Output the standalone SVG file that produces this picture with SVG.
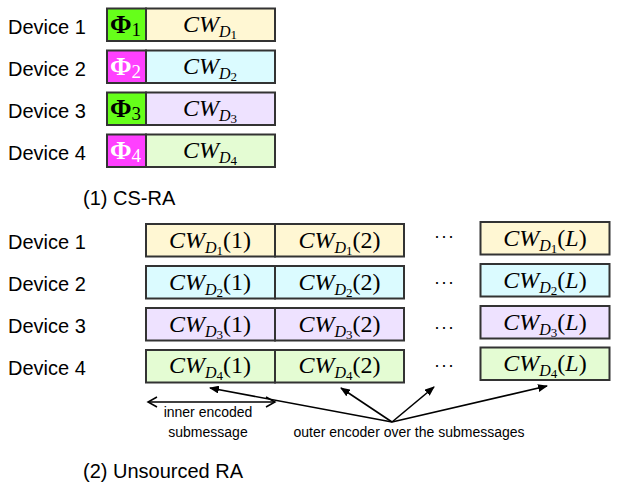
<svg xmlns="http://www.w3.org/2000/svg" width="623" height="488" viewBox="0 0 623 488">
<defs>
<marker id="ah" markerWidth="10" markerHeight="8" refX="9" refY="4" orient="auto" markerUnits="userSpaceOnUse">
<path d="M0,0 L10,4 L0,8 Z" fill="#000"/>
</marker>
<marker id="oh" markerWidth="12" markerHeight="12" refX="10" refY="6" orient="auto-start-reverse" markerUnits="userSpaceOnUse">
<path d="M1,1 L10,6 L1,11" fill="none" stroke="#000" stroke-width="1.5"/>
</marker>
</defs>
<style>
.lbl{font-family:"Liberation Sans",Arial,sans-serif;font-size:20px;fill:#000}
.sm{font-family:"Liberation Sans",Arial,sans-serif;font-size:14px;fill:#000}
.box{stroke:#333;stroke-width:2}
.cw{font-family:"Liberation Serif","DejaVu Serif",serif;font-size:24px;fill:#000}
.it{font-style:italic}
.sd{font-style:italic;font-size:16px}
.sn{font-size:13px}
.phi{font-family:"Liberation Serif","DejaVu Serif",serif;font-size:26px;font-weight:bold}
.ps{font-weight:normal;font-size:19px}
.g{fill:#66FF1A}
.m{fill:#FF40FF}
.c1{fill:#FFF7D3}
.c2{fill:#DBFBFF}
.c3{fill:#EEE2FF}
.c4{fill:#E4FCD3}
.dots{font-family:"Liberation Sans",Arial,sans-serif;font-size:18px;fill:#000;letter-spacing:1px}
.conn{stroke:#000;stroke-width:1.6;fill:none}
</style>
<rect width="623" height="488" fill="#fff"/>

<!-- Section 1: CS-RA -->
<g id="cs-dev1">
<text class="lbl" x="8" y="34">Device 1</text>
<rect class="box g" x="107" y="8.5" width="39" height="32.5"/>
<rect class="box c1" x="146" y="8.5" width="129" height="32.5"/>
<text class="phi" x="110" y="33" fill="#000">Φ<tspan class="ps" dy="3">1</tspan></text>
<text class="cw" x="210" y="32" text-anchor="middle"><tspan class="it">CW</tspan><tspan class="sd" dy="5">D</tspan><tspan class="sn" dy="2">1</tspan></text>
</g>
<g id="cs-dev2">
<text class="lbl" x="8" y="76">Device 2</text>
<rect class="box m" x="107" y="50.5" width="39" height="32.5"/>
<rect class="box c2" x="146" y="50.5" width="129" height="32.5"/>
<text class="phi" x="110" y="75" fill="#fff">Φ<tspan class="ps" dy="3">2</tspan></text>
<text class="cw" x="210" y="74" text-anchor="middle"><tspan class="it">CW</tspan><tspan class="sd" dy="5">D</tspan><tspan class="sn" dy="2">2</tspan></text>
</g>
<g id="cs-dev3">
<text class="lbl" x="8" y="118">Device 3</text>
<rect class="box g" x="107" y="92.5" width="39" height="32.5"/>
<rect class="box c3" x="146" y="92.5" width="129" height="32.5"/>
<text class="phi" x="110" y="117" fill="#000">Φ<tspan class="ps" dy="3">3</tspan></text>
<text class="cw" x="210" y="116" text-anchor="middle"><tspan class="it">CW</tspan><tspan class="sd" dy="5">D</tspan><tspan class="sn" dy="2">3</tspan></text>
</g>
<g id="cs-dev4">
<text class="lbl" x="8" y="160">Device 4</text>
<rect class="box m" x="107" y="134.5" width="39" height="32.5"/>
<rect class="box c4" x="146" y="134.5" width="129" height="32.5"/>
<text class="phi" x="110" y="159" fill="#fff">Φ<tspan class="ps" dy="3">4</tspan></text>
<text class="cw" x="210" y="158" text-anchor="middle"><tspan class="it">CW</tspan><tspan class="sd" dy="5">D</tspan><tspan class="sn" dy="2">4</tspan></text>
</g>
<text class="lbl" x="83" y="205">(1) CS-RA</text>

<!-- Section 2: Unsourced RA -->
<g id="ura-dev1">
<text class="lbl" x="8" y="249">Device 1</text>
<rect class="box c1" x="146" y="224" width="129" height="32.5"/>
<rect class="box c1" x="275" y="224" width="129" height="32.5"/>
<rect class="box c1" x="480.5" y="222" width="129" height="32.5"/>
<text class="cw" x="210" y="248" text-anchor="middle"><tspan class="it">CW</tspan><tspan class="sd" dy="5">D</tspan><tspan class="sn" dy="2">1</tspan><tspan dy="-7">(1)</tspan></text>
<text class="cw" x="339.5" y="248" text-anchor="middle"><tspan class="it">CW</tspan><tspan class="sd" dy="5">D</tspan><tspan class="sn" dy="2">1</tspan><tspan dy="-7">(2)</tspan></text>
<text class="cw" x="545" y="246" text-anchor="middle"><tspan class="it">CW</tspan><tspan class="sd" dy="5">D</tspan><tspan class="sn" dy="2">1</tspan><tspan dy="-7">(</tspan><tspan class="it">L</tspan><tspan>)</tspan></text>
<text class="dots" x="444.5" y="242" text-anchor="middle">···</text>
</g>
<g id="ura-dev2">
<text class="lbl" x="8" y="291">Device 2</text>
<rect class="box c2" x="146" y="266" width="129" height="32.5"/>
<rect class="box c2" x="275" y="266" width="129" height="32.5"/>
<rect class="box c2" x="480.5" y="264" width="129" height="32.5"/>
<text class="cw" x="210" y="290" text-anchor="middle"><tspan class="it">CW</tspan><tspan class="sd" dy="5">D</tspan><tspan class="sn" dy="2">2</tspan><tspan dy="-7">(1)</tspan></text>
<text class="cw" x="339.5" y="290" text-anchor="middle"><tspan class="it">CW</tspan><tspan class="sd" dy="5">D</tspan><tspan class="sn" dy="2">2</tspan><tspan dy="-7">(2)</tspan></text>
<text class="cw" x="545" y="288" text-anchor="middle"><tspan class="it">CW</tspan><tspan class="sd" dy="5">D</tspan><tspan class="sn" dy="2">2</tspan><tspan dy="-7">(</tspan><tspan class="it">L</tspan><tspan>)</tspan></text>
<text class="dots" x="444.5" y="288" text-anchor="middle">···</text>
</g>
<g id="ura-dev3">
<text class="lbl" x="8" y="333">Device 3</text>
<rect class="box c3" x="146" y="308" width="129" height="32.5"/>
<rect class="box c3" x="275" y="308" width="129" height="32.5"/>
<rect class="box c3" x="480.5" y="306" width="129" height="32.5"/>
<text class="cw" x="210" y="332" text-anchor="middle"><tspan class="it">CW</tspan><tspan class="sd" dy="5">D</tspan><tspan class="sn" dy="2">3</tspan><tspan dy="-7">(1)</tspan></text>
<text class="cw" x="339.5" y="332" text-anchor="middle"><tspan class="it">CW</tspan><tspan class="sd" dy="5">D</tspan><tspan class="sn" dy="2">3</tspan><tspan dy="-7">(2)</tspan></text>
<text class="cw" x="545" y="330" text-anchor="middle"><tspan class="it">CW</tspan><tspan class="sd" dy="5">D</tspan><tspan class="sn" dy="2">3</tspan><tspan dy="-7">(</tspan><tspan class="it">L</tspan><tspan>)</tspan></text>
<text class="dots" x="444.5" y="333" text-anchor="middle">···</text>
</g>
<g id="ura-dev4">
<text class="lbl" x="8" y="375">Device 4</text>
<rect class="box c4" x="146" y="350" width="129" height="32.5"/>
<rect class="box c4" x="275" y="350" width="129" height="32.5"/>
<rect class="box c4" x="480.5" y="347.5" width="129" height="32.5"/>
<text class="cw" x="210" y="373" text-anchor="middle"><tspan class="it">CW</tspan><tspan class="sd" dy="5">D</tspan><tspan class="sn" dy="2">4</tspan><tspan dy="-7">(1)</tspan></text>
<text class="cw" x="339.5" y="373" text-anchor="middle"><tspan class="it">CW</tspan><tspan class="sd" dy="5">D</tspan><tspan class="sn" dy="2">4</tspan><tspan dy="-7">(2)</tspan></text>
<text class="cw" x="545" y="371" text-anchor="middle"><tspan class="it">CW</tspan><tspan class="sd" dy="5">D</tspan><tspan class="sn" dy="2">4</tspan><tspan dy="-7">(</tspan><tspan class="it">L</tspan><tspan>)</tspan></text>
<text class="dots" x="444.5" y="371" text-anchor="middle">···</text>
</g>

<g id="connectors">
<line class="conn" x1="148" y1="402" x2="275" y2="402" marker-start="url(#oh)" marker-end="url(#oh)"/>
<line class="conn" x1="392" y1="422" x2="210" y2="388" marker-end="url(#ah)"/>
<line class="conn" x1="392" y1="422" x2="341" y2="388" marker-end="url(#ah)"/>
<line class="conn" x1="392" y1="422" x2="434" y2="387" marker-end="url(#ah)"/>
<line class="conn" x1="392" y1="422" x2="547" y2="386" marker-end="url(#ah)"/>
</g>

<text class="sm" x="208" y="417" text-anchor="middle">inner encoded</text>
<text class="sm" x="208" y="437" text-anchor="middle">submessage</text>
<text class="sm" x="409" y="437" text-anchor="middle">outer encoder over the submessages</text>
<text class="lbl" x="83" y="478">(2) Unsourced RA</text>
</svg>
